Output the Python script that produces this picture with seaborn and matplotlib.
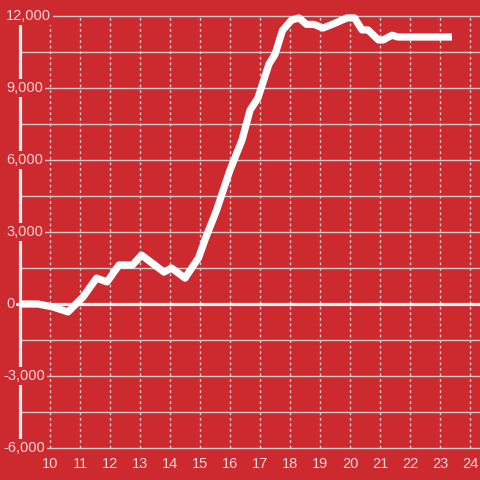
import numpy as np
import pandas as pd
import matplotlib
matplotlib.use("Agg")
import matplotlib.pyplot as plt
import matplotlib.transforms as mtransforms
import seaborn as sns

# data (hour of day vs cumulative value)
hours = [9.0, 9.6, 10.1, 10.6, 11.1, 11.55, 11.9, 12.3, 12.75, 13.05,
         13.8, 14.05, 14.5, 14.95, 15.2, 15.55, 16.0, 16.4, 16.67, 16.93,
         17.3, 17.5, 17.75, 18.05, 18.3, 18.55, 18.8, 19.1, 19.5, 19.9,
         20.15, 20.4, 20.6, 20.95, 21.1, 21.4, 21.6, 23.4]
values = [0, 0, -125, -330, 290, 1080, 920, 1625, 1625, 2040,
          1330, 1500, 1080, 1920, 2790, 3900, 5580, 6830, 8080, 8580,
          10000, 10400, 11400, 11830, 11920, 11650, 11650, 11500, 11700, 11920,
          11920, 11420, 11420, 11000, 11000, 11200, 11125, 11125]

x_ticks = list(range(10, 25))
y_ticks = [-6000, -3000, 0, 3000, 6000, 9000, 12000]
y_labels = ["-6,000", "-3,000", "0", "3,000", "6,000", "9,000", "12,000"]
y_grid = [-6000, -4500, -3000, -1500, 0, 1500, 3000, 4500, 6000, 7500, 9000, 10500, 12000]

BG = "#CC2A2F"
GRID = "#CFCBCB"
TXT = "#F3D6D7"

df = pd.DataFrame({"hour": hours, "value": values})

sns.set_style("white")
plt.rcParams["font.family"] = ["Liberation Sans", "DejaVu Sans"]

fig = plt.figure(figsize=(4.8, 4.8), dpi=100, facecolor=BG)
ax = fig.add_axes([0, 30 / 480, 1, 450 / 480])
ax.set_facecolor(BG)
for s in ax.spines.values():
    s.set_visible(False)

x_left = 8.3333
x_right = 24.3333
ax.set_xlim(x_left, x_right)
ax.set_ylim(-6083, 12667)

# grid
ax.hlines(y_grid, 9.0, x_right, color=GRID, lw=1.0, zorder=1)
ax.vlines(x_ticks, -6000, 12000, color=GRID, lw=1.0, linestyles=(0, (2, 2)), zorder=1)

# y axis line and zero line
ax.vlines(9.0, -6000, 12000, color="#EEEEEE", lw=2.3, zorder=2)
ax.axhline(0, xmin=17 / 480, color="#F4F4F4", lw=2.3, zorder=2)

sns.lineplot(data=df, x="hour", y="value", ax=ax, color="white", lw=5.2,
             sort=False, estimator=None, zorder=3, solid_capstyle="butt")

ax.set_xlabel("")
ax.set_ylabel("")
ax.set_xticks(x_ticks)
ax.set_xticklabels([str(t) for t in x_ticks])
ax.set_yticks([])
ax.tick_params(axis="x", length=0, pad=5, labelsize=10.5, labelcolor=TXT)

# y labels sit on top of the axis line with a background box
trans = mtransforms.blended_transform_factory(ax.transAxes, ax.transData)
for v, lab in zip(y_ticks, y_labels):
    x0 = 3 / 480 if lab.startswith("-") else 6 / 480
    ax.text(x0, v, lab, transform=trans, ha="left", va="center",
            fontsize=10.5, color=TXT, zorder=4,
            bbox=dict(facecolor=BG, edgecolor="none", pad=1.5))

fig.savefig("out.png", dpi=100, facecolor=BG)
